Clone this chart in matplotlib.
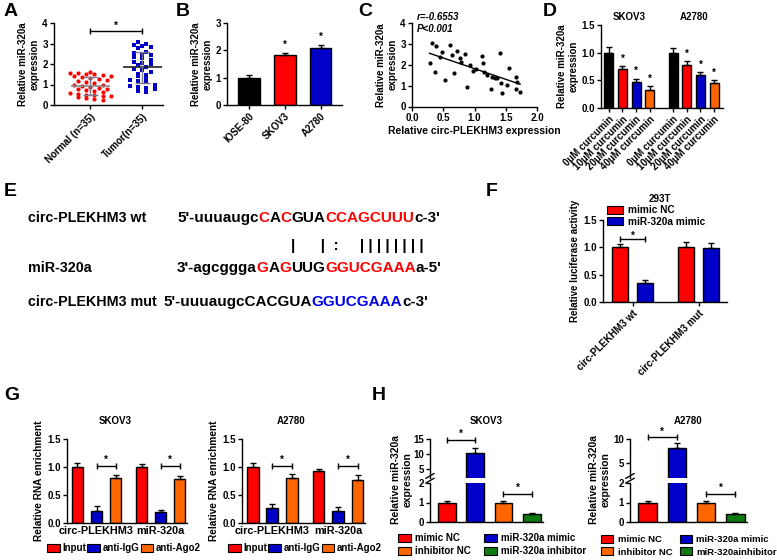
import numpy as np
import matplotlib
matplotlib.use("Agg")
import matplotlib.pyplot as plt
from matplotlib.patches import Patch
from matplotlib.ticker import FormatStrFormatter

plt.rcParams['font.family'] = ['Liberation Sans', 'DejaVu Sans']
plt.rcParams['font.weight'] = 'bold'
plt.rcParams['axes.labelweight'] = 'bold'
plt.rcParams['font.size'] = 7
plt.rcParams['axes.linewidth'] = 1.0
plt.rcParams['xtick.major.width'] = 1.0
plt.rcParams['ytick.major.width'] = 1.0
plt.rcParams['xtick.major.size'] = 3
plt.rcParams['ytick.major.size'] = 3
plt.rcParams['xtick.major.pad'] = 1.5
plt.rcParams['ytick.major.pad'] = 1.5
plt.rcParams['axes.labelpad'] = 2

RED = '#ff0000'
BLUE = '#0000c8'
ORANGE = '#ff6600'
GREEN = '#0f7a0f'
BLACK = '#000000'

# ---------------- data ----------------
# A: miR-320a in tissues
normal_vals = [1.62, 1.58, 1.55, 1.52, 1.50, 1.46, 1.42, 1.40, 1.35, 1.30,
               1.25, 1.22, 1.18, 1.12, 1.05, 1.00, 0.97, 0.92, 0.88, 0.85,
               0.80, 0.76, 0.72, 0.68, 0.62, 0.58, 0.55, 0.50, 0.48, 0.45,
               0.42, 0.38, 0.33, 0.28, 0.25]
tumor_vals = [3.05, 3.00, 2.95, 2.90, 2.85, 2.78, 2.60, 2.55, 2.50, 2.45,
              2.35, 2.30, 2.20, 2.10, 2.05, 2.00, 1.95, 1.85, 1.75, 1.70,
              1.60, 1.50, 1.45, 1.40, 1.30, 1.20, 1.15, 1.10, 1.00, 0.95,
              0.90, 0.85, 0.80, 0.70, 0.65]
a_labels = ['Normal (n=35)', 'Tumor(n=35)']

# B: cell lines
b_labels = ['IOSE-80', 'SKOV3', 'A2780']
b_means = [1.0, 1.83, 2.1]
b_sd = [0.08, 0.07, 0.10]

# C: correlation
c_circ = [0.28, 0.32, 0.38, 0.45, 0.36, 0.48, 0.53, 0.60, 0.64, 0.67,
          0.72, 0.76, 0.78, 0.85, 0.88, 0.92, 0.98, 1.02, 1.12, 1.14,
          1.15, 1.20, 1.28, 1.33, 1.36, 1.26, 1.41, 1.42, 1.44, 1.52,
          1.55, 1.66, 1.68, 1.66, 1.73]
c_mir = [2.07, 3.05, 2.89, 2.38, 1.67, 2.62, 1.27, 2.94, 2.46, 1.59,
         2.67, 2.31, 2.11, 2.50, 0.95, 1.99, 1.71, 1.78, 2.42, 2.07,
         1.64, 1.51, 1.40, 1.38, 1.35, 0.84, 2.55, 1.11, 0.66, 1.03,
         1.83, 1.43, 1.19, 0.84, 0.71]

# D: curcumin doses
d_doses = ['0μM curcumin', '10μM curcumin', '20μM curcumin', '40μM curcumin']
d_skov3 = [1.0, 0.70, 0.47, 0.33]
d_skov3_sd = [0.10, 0.06, 0.06, 0.07]
d_a2780 = [1.0, 0.77, 0.60, 0.46]
d_a2780_sd = [0.09, 0.08, 0.05, 0.05]

# F: luciferase
f_groups = ['circ-PLEKHM3 wt', 'circ-PLEKHM3 mut']
f_series = ['mimic NC', 'miR-320a mimic']
f_nc = [1.0, 1.0]
f_nc_sd = [0.07, 0.10]
f_mimic = [0.35, 0.99]
f_mimic_sd = [0.05, 0.09]

# G: RIP
g_groups = ['circ-PLEKHM3', 'miR-320a']
g_series = ['Input', 'anti-IgG', 'anti-Ago2']
g_skov3 = [[1.0, 1.0], [0.22, 0.19], [0.80, 0.78]]
g_skov3_sd = [[0.08, 0.05], [0.08, 0.05], [0.06, 0.06]]
g_a2780 = [[1.0, 0.93], [0.27, 0.22], [0.81, 0.77]]
g_a2780_sd = [[0.08, 0.03], [0.07, 0.06], [0.07, 0.09]]

# H: mimic / inhibitor
h_series_skov3 = ['mimic NC', 'miR-320a mimic', 'inhibitor NC', 'miR-320a inhibitor']
h_series_a2780 = ['mimic NC', 'miR-320a mimic', 'inhibitor NC', 'miR-320ainhibitor']
h_skov3 = [1.0, 10.2, 1.0, 0.42]
h_skov3_sd = [0.06, 1.7, 0.06, 0.05]
h_a2780 = [1.0, 8.1, 1.0, 0.42]
h_a2780_sd = [0.07, 1.1, 0.07, 0.06]

# ---------------- helpers ----------------
W, H = 777, 560
fig = plt.figure(figsize=(W / 100, H / 100), dpi=100, facecolor='white')


def px_axes(x0, y0, x1, y1):
    return fig.add_axes([x0 / W, 1 - y1 / H, (x1 - x0) / W, (y1 - y0) / H])


def clean(ax):
    ax.spines['top'].set_visible(False)
    ax.spines['right'].set_visible(False)


def bars(ax, x, vals, sds, colors, width):
    ax.bar(x, vals, width, color=colors, edgecolor='k', linewidth=1, zorder=2)
    ax.errorbar(x, vals, yerr=[np.zeros(len(vals)), sds], fmt='none',
                ecolor='k', elinewidth=1, capsize=2.3, capthick=1, zorder=3)


def star(ax, x, y, dy=0.5):
    ax.annotate('*', xy=(x, y), xytext=(0, dy), textcoords='offset points',
                ha='center', va='bottom', fontsize=7, annotation_clip=False)


def sig(ax, x1, x2, y, dy=0.5):
    ax.plot([x1, x2], [y, y], color='k', lw=1, marker='|', ms=5, mew=1,
            clip_on=False, zorder=4)
    star(ax, (x1 + x2) / 2, y, dy)


def swarm(vals, bin_h, step):
    vals = np.asarray(vals)
    offs = np.zeros(len(vals))
    bins = np.floor(vals / bin_h).astype(int)
    for b in np.unique(bins):
        idx = np.where(bins == b)[0]
        n = len(idx)
        offs[idx] = (np.arange(n) - (n - 1) / 2) * step
    return offs


def rot_labels(ax, labels, size=7):
    ax.set_xticklabels(labels, rotation=45, ha='right',
                       rotation_mode='anchor', fontsize=size)


def panel_label(x, y, s):
    fig.text(x / W, 1 - y / H, s, fontsize=14, fontweight='bold',
             ha='left', va='center')


# ---------------- A ----------------
ax = px_axes(54, 23, 163, 105)
clean(ax)
for i, (vals, col, mk, lc) in enumerate([(normal_vals, RED, 'o', '#8a8a8a'),
                                         (tumor_vals, BLUE, 's', '#222222')]):
    vals = np.array(vals)
    offs = swarm(vals, 0.2, 0.16)
    ax.scatter(i + offs, vals, s=9, c=col, marker=mk, linewidths=0, zorder=2)
    m, sd = vals.mean(), vals.std(ddof=1)
    ax.hlines(m, i - 0.38, i + 0.38, colors=lc, lw=1.2, zorder=3)
    ax.vlines(i, m - sd, m + sd, colors='#7a7a90', lw=1, zorder=3)
    ax.hlines([m - sd, m + sd], i - 0.14, i + 0.14, colors='#7a7a90', lw=1, zorder=3)
ax.set_xlim(-0.7, 1.4)
ax.set_ylim(0, 4)
ax.set_xticks([0, 1])
rot_labels(ax, a_labels)
ax.set_yticks([0, 1, 2, 3, 4])
ax.set_ylabel('Relative miR-320a\nexpression')
sig(ax, 0, 1, 3.6)
panel_label(4, 12, 'A')

# ---------------- B ----------------
ax = px_axes(227, 23, 342, 105)
clean(ax)
bars(ax, np.arange(3), b_means, b_sd, [BLACK, RED, BLUE], 0.6)
ax.set_xlim(-0.62, 2.6)
ax.set_ylim(0, 3)
ax.set_yticks([0, 1, 2, 3])
ax.set_xticks(np.arange(3))
rot_labels(ax, b_labels)
ax.set_ylabel('Relative miR-320a\nexpression')
for i in (1, 2):
    star(ax, i, b_means[i] + b_sd[i] + 0.1)
panel_label(176, 12, 'B')

# ---------------- C ----------------
ax = px_axes(412, 23, 537, 106.5)
clean(ax)
ax.scatter(c_circ, c_mir, s=9, c='k', linewidths=0, zorder=2)
k, b0 = np.polyfit(c_circ, c_mir, 1)
xs = np.array([min(c_circ), max(c_circ)])
ax.plot(xs, k * xs + b0, color='k', lw=1)
ax.set_xlim(0, 2)
ax.set_ylim(0, 4)
ax.set_xticks(np.arange(0, 2.01, 0.5))
ax.set_yticks([0, 1, 2, 3, 4])
ax.xaxis.set_major_formatter(FormatStrFormatter('%.1f'))
ax.set_xlabel('Relative circ-PLEKHM3 expression', fontsize=7.5)
ax.set_ylabel('Relative miR-320a\nexpression')
ax.text(0.04, 1.07, 'r=-0.6553', transform=ax.transAxes, fontsize=7,
        style='italic', ha='left', va='center')
ax.text(0.04, 0.93, 'P<0.001', transform=ax.transAxes, fontsize=7,
        style='italic', ha='left', va='center')
panel_label(358, 12, 'C')

# ---------------- D ----------------
ax = px_axes(601, 25, 723, 108)
clean(ax)
d_pos = np.array([0, 1, 2, 3, 4.7, 5.7, 6.7, 7.7])
d_cols = [BLACK, RED, BLUE, ORANGE] * 2
bars(ax, d_pos, d_skov3 + d_a2780, d_skov3_sd + d_a2780_sd, d_cols, 0.65)
ax.set_xlim(-0.57, 8.35)
ax.set_ylim(0, 1.5)
ax.set_yticks([0, 0.5, 1.0, 1.5])
ax.yaxis.set_major_formatter(FormatStrFormatter('%.1f'))
ax.set_xticks(d_pos)
rot_labels(ax, d_doses * 2)
ax.set_ylabel('Relative miR-320a\nexpression')
vals_d = d_skov3 + d_a2780
sds_d = d_skov3_sd + d_a2780_sd
for j in (1, 2, 3, 5, 6, 7):
    star(ax, d_pos[j], vals_d[j] + sds_d[j] + 0.03)
ax.text(1.5, 1.1, 'SKOV3', transform=ax.get_xaxis_transform(), ha='center', va='center')
ax.text(6.2, 1.1, 'A2780', transform=ax.get_xaxis_transform(), ha='center', va='center')
panel_label(543, 12, 'D')

# ---------------- E ----------------
ax_e = fig.add_axes([0, 0, 1, 1])
ax_e.set_xlim(0, W)
ax_e.set_ylim(H, 0)
ax_e.axis('off')
ax_e.patch.set_alpha(0)
panel_label(4, 192, 'E')

e_rows = [
    ('circ-PLEKHM3 wt', 177, 218,
     [("5'-uuuaugc", BLACK), ('C', RED), ('A', BLACK), ('C', RED),
      ('GUA', BLACK), ('CCAGCUUU', RED), ("c-3'", BLACK)]),
    ('miR-320a', 177, 268,
     [("3'-agcggga", BLACK), ('G', RED), ('A', BLACK), ('G', RED),
      ('UUG', BLACK), ('GGUCGAAA', RED), ("a-5'", BLACK)]),
    ('circ-PLEKHM3 mut', 163, 302,
     [("5'-uuuaugcCACGUA", BLACK), ('GGUCGAAA', '#0000ee'), ("c-3'", BLACK)]),
]
for name, x_seq, y, pieces in e_rows:
    ax_e.text(28, y, name, fontsize=10.3, fontweight='bold', va='center', ha='left')
    prev = ax_e.text(x_seq, y, pieces[0][0], color=pieces[0][1], fontsize=11,
                     fontweight='bold', va='center', ha='left')
    for s, col in pieces[1:]:
        prev = ax_e.annotate(s, xy=(1, 0), xycoords=prev, color=col, fontsize=11,
                             fontweight='bold', va='bottom', ha='left')
ax_e.text(291, 246, '|' + ' ' * 6 + '|' + ' ' * 2 + ':' + ' ' * 5 + '| | | | | | | |',
          fontsize=11, fontweight='bold', va='center', ha='left')

# ---------------- F ----------------
ax = px_axes(603, 220, 727, 302)
clean(ax)
f_center = np.array([0, 2.64])
bars(ax, f_center - 0.5, f_nc, f_nc_sd, RED, 0.64)
bars(ax, f_center + 0.5, f_mimic, f_mimic_sd, BLUE, 0.64)
ax.set_xlim(-1.18, 3.78)
ax.set_ylim(0, 1.5)
ax.set_yticks([0, 0.5, 1.0, 1.5])
ax.yaxis.set_major_formatter(FormatStrFormatter('%.1f'))
ax.set_xticks(f_center)
rot_labels(ax, f_groups)
ax.set_ylabel('Relative luciferase activity')
sig(ax, -0.5, 0.5, 1.16, dy=-1.5)
ax.text(0.46, 1.25, '293T', transform=ax.transAxes, ha='center', va='center')
ax.legend([Patch(fc=RED, ec='k', lw=0.8), Patch(fc=BLUE, ec='k', lw=0.8)], f_series,
          loc='upper left', bbox_to_anchor=(0.035, 1.18), frameon=False, fontsize=7.3,
          handlelength=1.5, handleheight=0.85, handletextpad=0.5, labelspacing=0.15,
          borderpad=0, borderaxespad=0)
panel_label(486, 192, 'F')


# ---------------- G ----------------
def rip_panel(box, data, sds, title, leg_xy):
    ax = px_axes(*box)
    clean(ax)
    gc = np.array([0, 3.37])
    for s, col in enumerate([RED, BLUE, ORANGE]):
        bars(ax, gc + (s - 1), data[s], sds[s], col, 0.6)
    ax.set_xlim(-1.55, 4.75)
    ax.set_ylim(0, 1.5)
    ax.set_yticks([0, 0.5, 1.0, 1.5])
    ax.yaxis.set_major_formatter(FormatStrFormatter('%.1f'))
    ax.set_xticks(gc)
    ax.set_xticklabels(g_groups, fontsize=7.8)
    ax.tick_params(axis='x', length=0, pad=2)
    ax.set_ylabel('Relative RNA enrichment', fontsize=7.3)
    for g in range(2):
        sig(ax, gc[g], gc[g] + 1, 1.02)
    ax.text(0.4, 1.21, title, transform=ax.transAxes, ha='center', va='center')
    ax.legend([Patch(fc=c, ec='k', lw=0.8) for c in (RED, BLUE, ORANGE)], g_series,
              loc='upper left', bbox_to_anchor=(leg_xy[0] / W, 1 - leg_xy[1] / H),
              bbox_transform=fig.transFigure, ncol=3, frameon=False, fontsize=7,
              handlelength=1.3, handleheight=0.9, handletextpad=0.3,
              columnspacing=0.1, borderpad=0, borderaxespad=0)
    return ax


rip_panel((67, 439, 187, 523), g_skov3, g_skov3_sd, 'SKOV3', (47, 543))
rip_panel((242, 439, 365, 523), g_a2780, g_a2780_sd, 'A2780', (228, 543))
panel_label(4, 395, 'G')


# ---------------- H ----------------
def broken_panel(x0, x1, vals, sds, top, top_ticks, labels, title, sig_top,
                 leg_xy, ylab_x, colsp, leg_fs):
    ax_hi = px_axes(x0, 439, x1, 477.5)
    ax_lo = px_axes(x0, 483, x1, 522)
    cols = [RED, BLUE, ORANGE, GREEN]
    x = np.arange(4)
    for a in (ax_hi, ax_lo):
        clean(a)
        bars(a, x, vals, sds, cols, 0.63)
        a.set_xlim(-0.6, 3.4)
    ax_hi.spines['bottom'].set_visible(False)
    ax_hi.tick_params(axis='x', which='both', bottom=False, labelbottom=False)
    ax_hi.set_ylim(2, top)
    ax_hi.set_yticks(top_ticks)
    ax_lo.set_ylim(0, 2)
    ax_lo.set_yticks([0, 1, 2])
    ax_lo.set_xticks([])
    # break marks on the left spine
    kw = dict(color='k', lw=1, clip_on=False)
    ax_lo.plot([-0.035, 0.035], [1.0, 1.12], transform=ax_lo.transAxes, **kw)
    ax_hi.plot([-0.035, 0.035], [-0.02, 0.1], transform=ax_hi.transAxes, **kw)
    sig(ax_hi, 0, 1, sig_top)
    sig(ax_lo, 2, 3, 1.45)
    ax_hi.text(0.5, 1.47, title, transform=ax_hi.transAxes, ha='center', va='center')
    fig.text(ylab_x / W, 1 - 480 / H, 'Relative miR-320a\nexpression', rotation=90,
             ha='center', va='center', fontsize=7.5, fontweight='bold')
    handles = [Patch(fc=c, ec='k', lw=0.8) for c in (RED, ORANGE, BLUE, GREEN)]
    ax_lo.legend(handles, [labels[0], labels[2], labels[1], labels[3]],
                 loc='upper left', bbox_to_anchor=(leg_xy[0] / W, 1 - leg_xy[1] / H),
                 bbox_transform=fig.transFigure, ncol=2, frameon=False, fontsize=leg_fs,
                 handlelength=1.3, handleheight=0.9, handletextpad=0.45,
                 columnspacing=colsp, labelspacing=0.35, borderpad=0, borderaxespad=0)


broken_panel(430, 543, h_skov3, h_skov3_sd, 15, [5, 10, 15], h_series_skov3,
             'SKOV3', 14.7, (398, 533), 402, 1.4, 7)
broken_panel(630, 747, h_a2780, h_a2780_sd, 10, [5, 10], h_series_a2780,
             'A2780', 10.4, (601, 535), 600, 0.8, 6.8)
panel_label(372, 395, 'H')

fig.savefig('out.png', dpi=100, facecolor='white')
